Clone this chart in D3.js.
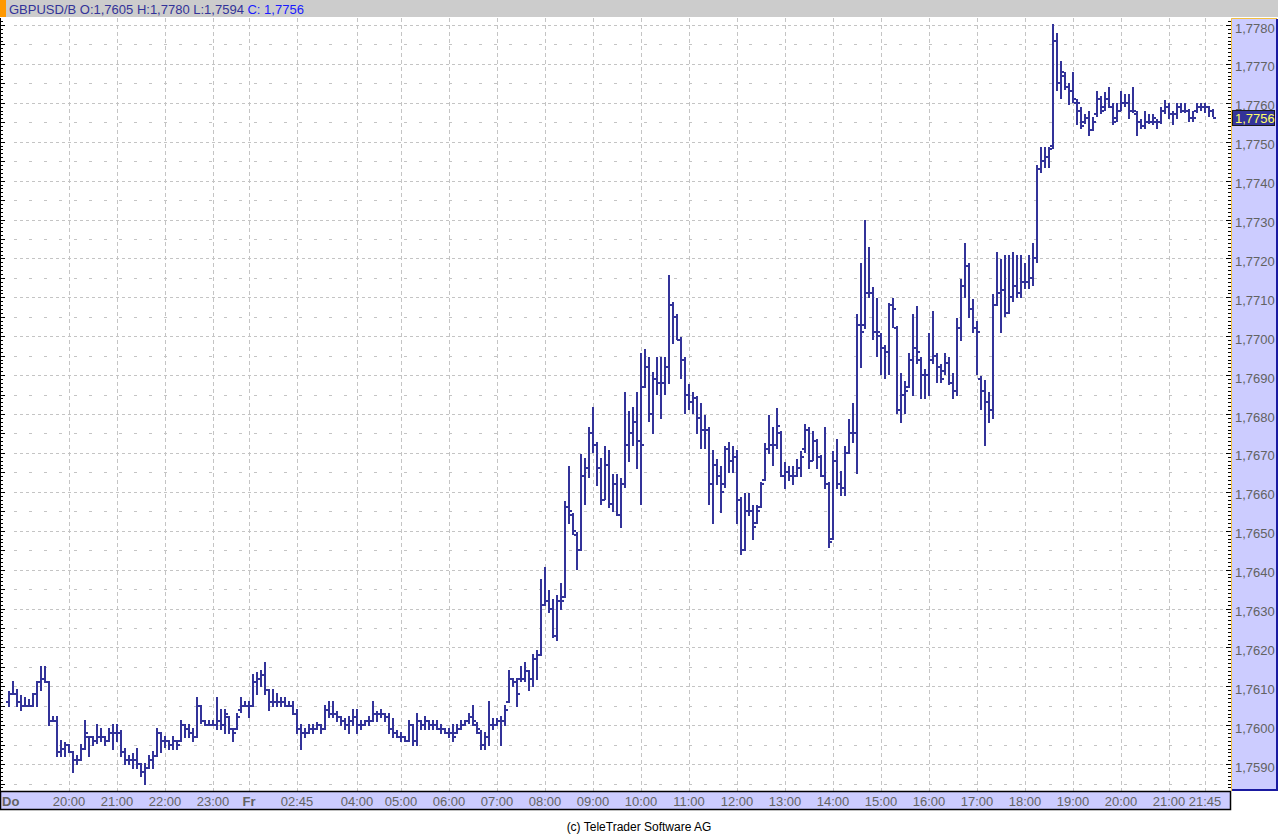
<!DOCTYPE html>
<html>
<head>
<meta charset="utf-8">
<script src="https://cdn.jsdelivr.net/npm/d3@7"></script>
<style>
  body { margin: 0; background: #fff; }
  svg { display: block; font-family: "Liberation Sans", Arial, sans-serif; }
</style>
</head>
<body>
<svg id="chart"></svg>
<script>
const headerText = "GBPUSD/B O:1,7605 H:1,7780 L:1,7594 ";
const headerClose = "C: 1,7756";
const lastPrice = 7756;

// prices as 1/10000 above 1 (7605 = 1,7605), one bar every 5 minutes
const opens = [
  7606,7608,7608,7606,7605,7605,7605,7608,7611,7612,
  7611,7601,7601,7593,7594,7595,7593,7591,7591,7594,
  7597,7597,7596,7597,7597,7596,7598,7598,7598,7593,
  7591,7591,7591,7590,7588,7589,7591,7592,7598,7596,
  7596,7595,7596,7596,7600,7599,7598,7597,7605,7601,
  7600,7600,7600,7601,7600,7602,7599,7599,7604,7605,
  7605,7605,7611,7612,7613,7609,7606,7606,7606,7606,
  7605,7605,7603,7599,7598,7598,7599,7599,7600,7599,
  7604,7603,7603,7602,7601,7600,7601,7602,7600,7600,
  7601,7601,7603,7603,7603,7602,7599,7598,7597,7597,
  7596,7600,7596,7601,7600,7601,7600,7600,7599,7599,
  7598,7598,7598,7599,7600,7601,7602,7600,7598,7595,
  7597,7600,7600,7601,7601,7606,7612,7611,7612,7612,
  7614,7612,7617,7618,7631,7632,7630,7623,7632,7633,
  7656,7654,7649,7645,7664,7666,7675,7672,7666,7658,
  7667,7657,7662,7654,7662,7672,7675,7678,7673,7687,
  7692,7680,7689,7688,7688,7692,7708,7705,7699,7694,
  7685,7683,7684,7679,7676,7676,7662,7667,7664,7662,
  7671,7668,7669,7658,7645,7655,7655,7652,7656,7663,
  7671,7672,7672,7675,7664,7665,7664,7664,7666,7671,
  7676,7668,7673,7669,7664,7662,7648,7668,7662,7661,
  7670,7675,7675,7703,7703,7711,7711,7701,7700,7697,
  7696,7708,7702,7681,7685,7687,7694,7697,7694,7690,
  7690,7694,7695,7692,7691,7693,7688,7686,7702,7713,
  7718,7707,7702,7689,7686,7683,7681,7708,7711,7712,
  7706,7710,7713,7711,7714,7714,7715,7720,7743,7745,
  7746,7749,7776,7765,7767,7764,7763,7760,7758,7755,
  7756,7753,7757,7761,7759,7761,7759,7756,7758,7760,
  7760,7758,7757,7755,7754,7755,7755,7755,7755,7758,
  7759,7757,7757,7759,7758,7758,7756,7758,7759,7759,
  7759,7758
];
const highs = [
  7608.5,7611,7609,7607.5,7607,7606.5,7608,7611,7615,7615,
  7611,7602,7602,7596,7595.5,7595,7593,7592,7595,7601,
  7597,7597,7600,7599,7597,7599,7600,7600,7598.5,7594,
  7592,7592.5,7594,7590,7590,7592,7593,7599,7598,7597,
  7596,7597,7596,7601,7600,7600,7599,7607,7605,7601,
  7601,7601,7607,7604,7604,7602,7599,7603,7607,7606,
  7606,7613,7613.5,7614,7616,7609,7609,7608,7607,7607,
  7606,7606,7604,7600,7599,7600,7600,7600.5,7600,7605,
  7606,7606,7603.5,7602,7601.5,7602,7604,7604,7601,7601,
  7602,7606,7603.5,7604,7603,7603,7601.5,7598.5,7598,7597,
  7601,7600,7603,7601,7602,7601,7601,7601,7600,7599,
  7599,7600,7600,7601,7601,7603,7605,7600.5,7598.5,7598,
  7606,7601.5,7601.5,7602,7605,7614,7612,7612,7615,7616,
  7614,7618,7619,7637.4,7640.3,7634.4,7632.2,7633.3,7636.3,7657.3,
  7666.3,7654.3,7649.4,7669.5,7668.5,7676.3,7681.5,7672.5,7668.4,7671.5,
  7670.5,7664.3,7664.3,7663.2,7685.3,7680.5,7681.5,7685.3,7695.4,7696.5,
  7694.3,7690.5,7694.3,7694.3,7694.3,7715.5,7708.5,7705.5,7699.5,7694.3,
  7687.5,7685.3,7684.5,7682.6,7679.5,7676.3,7670.4,7668.2,7666.3,7671.4,
  7672.5,7671.4,7670.4,7658.3,7659.4,7659.4,7656.3,7656.3,7662.2,7672.4,
  7679.5,7676.3,7681.4,7675.3,7667.3,7666.3,7666.3,7668.3,7670.3,7677.3,
  7676.3,7675.3,7673.3,7669.2,7676.3,7662.2,7670.3,7673.3,7665.2,7671.4,
  7678.4,7682.6,7705.4,7718.5,7729.7,7722.6,7712.5,7709.5,7700.5,7697.5,
  7708.4,7709.5,7702.4,7690.4,7688.3,7695.4,7705.4,7707.4,7694.3,7691.4,
  7700.5,7706.3,7695.4,7692.6,7695.4,7694.3,7690.4,7704.3,7714.4,7723.7,
  7718.5,7709.4,7703.7,7689.4,7688.5,7685.3,7710.6,7721.4,7719.5,7720.6,
  7720.6,7721.4,7720.6,7720.6,7718.5,7720.6,7723.7,7743.7,7748.5,7748.5,
  7748.5,7780,7777.6,7770.6,7767.6,7764.8,7767.6,7760.8,7758.6,7756.9,
  7757.7,7756,7762.7,7761.6,7762.5,7763.7,7759.6,7759.6,7762.7,7761.9,
  7761.9,7763.7,7757.6,7755.6,7757.6,7756.9,7756.9,7755.6,7758.6,7760.5,
  7759.6,7757.6,7759.6,7759.6,7759.6,7758.2,7757.6,7759.6,7759.6,7759.6,
  7759,7758.2
];
const lows = [
  7605,7608,7605,7604,7605,7605,7605,7605,7609,7611,
  7600,7601,7592,7592,7592,7593,7588,7590,7591,7594,
  7592,7595,7595.5,7596,7595,7596,7594,7596,7592,7590,
  7590,7589,7589,7587,7585,7589,7589,7592,7593,7594.5,
  7594,7594,7594,7596,7597,7597,7596,7597,7600.5,7600,
  7600,7600,7599,7599,7598,7598,7596,7599,7603.5,7605,
  7602,7605,7608,7610,7608,7604,7605,7605,7605,7605,
  7605,7603,7598,7594,7597,7598,7598,7599,7598,7599,
  7602,7602,7601,7600,7599,7598,7600,7598,7599,7600,
  7600,7601,7601,7602,7601,7598,7597,7597,7596,7596,
  7596,7595,7595,7599,7599,7599,7599,7599,7598,7598,
  7597,7596,7598,7599,7600,7600.5,7600,7598,7594,7594,
  7595,7599,7600,7595,7600,7606,7610,7605,7611.5,7611.5,
  7609,7610,7612,7618,7631,7629,7622.8,7621.8,7630,7632.9,
  7652,7649.2,7640.1,7645,7657,7663.9,7670.3,7661.8,7657,7658.1,
  7656,7655,7654,7651,7661.2,7668,7672,7666,7657,7687,
  7678.2,7675,7685.1,7679.1,7685.1,7688.1,7698.2,7699.2,7689.2,7680.2,
  7681.2,7680.2,7675,7671.2,7671.2,7657,7651.9,7662,7654.9,7661.3,
  7665,7665,7651.9,7644,7645,7654,7648,7652,7656.2,7663,
  7670,7666.9,7671.2,7664,7661.1,7663,7662,7664,7664,7670.3,
  7666,7668.2,7666,7664,7661.1,7645.9,7648,7661.1,7659.2,7659.2,
  7670,7672.9,7664.9,7692.2,7702.2,7710.1,7699.2,7695,7690.2,7689.2,
  7690.2,7702.4,7680.2,7678,7680.2,7687,7684.9,7693,7684,7684,
  7684.9,7693,7688.3,7688.3,7690.4,7687.8,7684,7684.9,7699,7710.1,
  7705,7701.1,7690.2,7681.2,7672,7678,7679.1,7708,7701.1,7705.2,
  7706,7709.1,7710.1,7710.1,7712.3,7712.3,7713.1,7719.1,7742.3,7743.4,
  7743.4,7748.5,7763.3,7761.3,7763.6,7759.6,7760.3,7754.5,7753.5,7754.7,
  7751.6,7753,7756.5,7757.3,7758.2,7758.8,7754.5,7755.3,7758.2,7759.3,
  7756,7757.6,7751.6,7753.5,7753.6,7754.7,7754.5,7753.6,7754.7,7757.3,
  7756.2,7754.5,7756,7757.7,7757.7,7755.3,7755.3,7757.7,7758.2,7757.7,
  7756.5,7756.5
];
const closes = [
  7608,7608,7606,7605,7605,7605,7608,7611,7612,7611,
  7601,7601,7593,7594,7595,7593,7591,7591,7594,7598,
  7597,7596,7597,7597,7596,7598,7598,7598,7593,7591,
  7591,7591,7590,7588,7589,7591,7592,7598,7596,7596,
  7595,7596,7595,7600,7599,7598,7597,7605,7601,7600,
  7600,7600,7601,7600,7603,7599,7598,7602,7605,7605,
  7605,7611,7612,7613,7609,7606,7606,7606,7606,7605,
  7605,7603,7599,7598,7598,7599,7599,7600,7599,7604,
  7603,7603,7602,7601,7600,7601,7602,7600,7600,7601,
  7601,7603,7603,7603,7602,7599,7598,7597,7597,7596,
  7600,7596,7601,7600,7601,7600,7600,7599,7599,7598,
  7598,7597,7599,7600,7601,7602,7601,7599,7595,7597,
  7600,7600,7601,7601,7604,7612,7611,7608,7612,7614,
  7612,7617,7618,7631,7632,7630,7623,7632,7632,7656,
  7655,7650,7645,7664,7666,7675,7672,7666,7658,7667,
  7657,7662,7654,7662,7672,7675,7678,7673,7672,7692,
  7680,7689,7688,7688,7692,7708,7705,7699,7694,7685,
  7683,7684,7679,7676,7676,7662,7667,7664,7660,7671,
  7668,7669,7658,7645,7655,7655,7651,7655,7662,7671,
  7672,7672,7677,7664,7665,7664,7664,7666,7669,7676,
  7668,7673,7669,7664,7662,7647,7668,7662,7661,7670,
  7675,7675,7703,7701,7711,7711,7701,7701,7697,7696,
  7708,7707,7681,7685,7686,7694,7697,7696,7690,7690,
  7694,7695,7692,7689,7693,7688,7686,7702,7713,7718,
  7707,7702,7701,7686,7683,7681,7708,7711,7712,7706,
  7710,7713,7711,7714,7714,7715,7720,7743,7745,7746,
  7748,7776,7765,7768,7764,7763,7761,7760,7754,7756,
  7753,7755,7761,7758,7761,7759,7755,7758,7760,7760,
  7758,7758,7755,7754,7755,7755,7756,7755,7758,7759,
  7757,7757,7759,7758,7758,7756,7756,7759,7759,7759,
  7758,7756
];

// bar index of each time label
const timeTicks = [15, 27, 39, 51, 60, 72, 87, 98, 110, 122, 134, 146, 158,
                   170, 182, 194, 206, 218, 230, 242, 254, 266, 278, 290, 299];
const timeLabels = ["20:00", "21:00", "22:00", "23:00", "Fr", "02:45", "04:00", "05:00",
                    "06:00", "07:00", "08:00", "09:00", "10:00", "11:00", "12:00", "13:00",
                    "14:00", "15:00", "16:00", "17:00", "18:00", "19:00", "20:00", "21:00", "21:45"];
const dayLabels = ["Do", "Fr"];

const priceTicks = [7590, 7600, 7610, 7620, 7630, 7640, 7650, 7660, 7670, 7680,
                    7690, 7700, 7710, 7720, 7730, 7740, 7750, 7760, 7770, 7780];

const BAR_COLOR = "#333399";
const GRID_COLOR = "#c4c4c4";
const PANEL_COLOR = "#ccccff";
const LABEL_COLOR = "#626262";

const svg = d3.select("#chart").attr("width", 1278).attr("height", 834);

const PLOT_RIGHT = 1230, PLOT_TOP = 18, PLOT_BOTTOM = 791;

let xscale = d3.scaleLinear()
            .domain([0, 301])
            .range([9, 1213]);

let yscale = d3.scaleLinear()
            .domain([7583.1, 7781.8])
            .range([PLOT_BOTTOM, PLOT_TOP]);

const fmt = v => "1," + v;
const px = v => Math.round(v) + 0.5;


function main() {
    drawFrame();
    drawGrid();
    drawBars();
    drawPriceAxis();
    drawTimeAxis();
}


function drawFrame() {
    // header strip
    svg.append("rect").attr("x", 0).attr("y", 0).attr("width", 1278).attr("height", 17)
        .attr("fill", "#cccccc");
    svg.append("rect").attr("x", 0).attr("y", 0).attr("width", 6).attr("height", 17)
        .attr("fill", "#ff9900");
    const t = svg.append("text").attr("x", 9).attr("y", 13.5)
        .attr("font-size", 13).attr("fill", BAR_COLOR);
    t.append("tspan").text(headerText);
    t.append("tspan").attr("fill", "#1a1aff").text(headerClose);

    // left border
    svg.append("line").attr("x1", 0.5).attr("x2", 0.5)
        .attr("y1", PLOT_TOP).attr("y2", PLOT_BOTTOM)
        .attr("stroke", "#000");

    // footer
    svg.append("text").attr("x", 639).attr("y", 831)
        .attr("text-anchor", "middle").attr("font-size", 12).attr("fill", "#000")
        .text("(c) TeleTrader Software AG");
}


function drawGrid() {
    const levels = d3.range(7585, 7785, 5);
    svg.selectAll(".hgrid").data(levels).join("line")
        .attr("class", "hgrid")
        .attr("x1", 14).attr("x2", PLOT_RIGHT - 4)
        .attr("y1", d => px(yscale(d))).attr("y2", d => px(yscale(d)))
        .attr("stroke", GRID_COLOR)
        .attr("stroke-dasharray", d => d % 10 === 0 ? "3,3" : "3,12")
        .attr("shape-rendering", "crispEdges");

    svg.selectAll(".vgrid").data(timeTicks).join("line")
        .attr("class", "vgrid")
        .attr("x1", d => px(xscale(d))).attr("x2", d => px(xscale(d)))
        .attr("y1", PLOT_TOP).attr("y2", PLOT_BOTTOM)
        .attr("stroke", GRID_COLOR)
        .attr("stroke-dasharray", "4,3")
        .attr("shape-rendering", "crispEdges");

    // left edge ticks
    const pips = d3.range(7584, 7782);
    svg.selectAll(".lt").data(pips).join("line")
        .attr("class", "lt")
        .attr("x1", 0).attr("x2", d => d % 5 === 0 ? 5 : 3)
        .attr("y1", d => px(yscale(d))).attr("y2", d => px(yscale(d)))
        .attr("stroke", "#000")
        .attr("shape-rendering", "crispEdges");
}


function drawBars() {
    const bars = d3.range(closes.length).map(i => ({
        i: i, o: opens[i], h: highs[i], l: lows[i], c: closes[i]
    }));

    svg.selectAll(".bar").data(bars).join("path")
        .attr("class", "bar")
        .attr("fill", "none")
        .attr("stroke", BAR_COLOR)
        .attr("stroke-width", 2)
        .attr("shape-rendering", "crispEdges")
        .attr("d", d => {
            const bx = Math.round(xscale(d.i));
            const yh = Math.round(yscale(d.h)), yl = Math.round(yscale(d.l));
            const yo = Math.round(yscale(d.o)), yc = Math.round(yscale(d.c));
            return `M${bx},${yh - 1}V${Math.max(yl, yh + 1) + 1}` +
                   `M${bx - 3},${yo}H${bx}` +
                   `M${bx},${yc}H${bx + 3}`;
        });
}


function drawPriceAxis() {
    svg.append("rect").attr("x", 1231).attr("y", PLOT_TOP)
        .attr("width", 46).attr("height", PLOT_BOTTOM - PLOT_TOP)
        .attr("fill", PANEL_COLOR);
    svg.append("path")
        .attr("d", `M1231.5,${PLOT_BOTTOM}V${PLOT_TOP + 0.5}H1277`)
        .attr("fill", "none").attr("stroke", "#f2c040");
    svg.append("path")
        .attr("d", `M1277,${PLOT_TOP + 1}V${PLOT_BOTTOM - 1}H1232`)
        .attr("fill", "none").attr("stroke", "#1a1aa0").attr("stroke-width", 2);

    const pips = d3.range(7584, 7782);
    svg.selectAll(".rt").data(pips).join("line")
        .attr("class", "rt")
        .attr("x1", d => d % 10 === 0 ? 1226 : 1228).attr("x2", 1231)
        .attr("y1", d => px(yscale(d))).attr("y2", d => px(yscale(d)))
        .attr("stroke", "#000")
        .attr("shape-rendering", "crispEdges");

    svg.selectAll(".plabel").data(priceTicks).join("text")
        .attr("class", "plabel")
        .attr("x", 1235)
        .attr("y", d => yscale(d) + 7.5)
        .attr("font-size", 13)
        .attr("fill", LABEL_COLOR)
        .text(fmt);

    // current price marker
    const yl = Math.round(yscale(lastPrice));
    svg.append("rect").attr("x", 1232.5).attr("y", yl - 7.5)
        .attr("width", 42).attr("height", 15)
        .attr("fill", BAR_COLOR).attr("stroke", "#1a1a1a");
    svg.append("text").attr("x", 1235).attr("y", yl + 5)
        .attr("font-size", 13).attr("fill", "#ffff66")
        .text(fmt(lastPrice));
}


function drawTimeAxis() {
    svg.append("rect").attr("x", 0.5).attr("y", PLOT_BOTTOM + 0.5)
        .attr("width", PLOT_RIGHT).attr("height", 18)
        .attr("fill", PANEL_COLOR).attr("stroke", "#000").attr("stroke-width", 1.5);

    svg.append("text").attr("x", 2).attr("y", 806)
        .attr("font-size", 13).attr("font-weight", "bold").attr("fill", LABEL_COLOR)
        .text(dayLabels[0]);

    svg.selectAll(".tlabel").data(timeTicks).join("text")
        .attr("class", "tlabel")
        .attr("x", d => xscale(d))
        .attr("y", 806)
        .attr("text-anchor", "middle")
        .attr("font-size", 13)
        .attr("font-weight", (d, i) => dayLabels.includes(timeLabels[i]) ? "bold" : "normal")
        .attr("fill", LABEL_COLOR)
        .text((d, i) => timeLabels[i]);
}


main();
</script>
</body>
</html>
